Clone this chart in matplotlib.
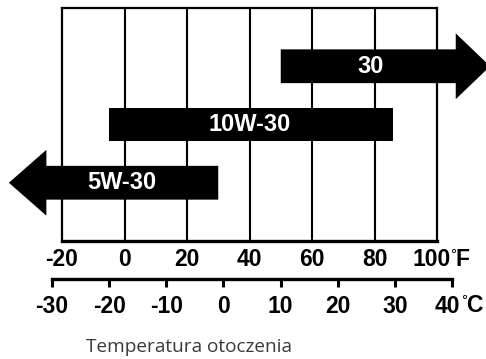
import matplotlib.pyplot as plt
from matplotlib.patches import FancyArrow
from matplotlib.transforms import ScaledTranslation

plt.rcParams['font.family'] = ['Liberation Sans', 'DejaVu Sans']

# === DATA ===
f_ticks = [-20, 0, 20, 40, 60, 80, 100]
c_ticks = [-30, -20, -10, 0, 10, 20, 30, 40]

oil_grades = ["30", "10W-30", "5W-30"]
grade_rows = [3, 2, 1]
# shaft ends in °F; arrow tips run past the scale for open-ended grades
shaft_start_f = [50, -5, 30]
shaft_end_f = [106, 86, -25]
tip_f = [117, 86, -37]
label_f = [78.6, 40, -1]

W, H = 486, 359
SCALE_SIZE = 16.5
fig = plt.figure(figsize=(W / 100, H / 100), dpi=100)


def px_axes(left, top, right, bottom):
    return fig.add_axes([left / W, 1 - bottom / H, (right - left) / W, (bottom - top) / H])


def unit_label(x, y_top, unit):
    # small thin degree sign followed by a bold unit letter
    fig.text(x / W, 1 - y_top / H, "°", fontsize=11, va='top', ha='left')
    fig.text((x + 5) / W, 1 - y_top / H, unit, fontsize=SCALE_SIZE, fontweight='bold',
             va='top', ha='left')


def style_scale(axis_ax, ticks, **tick_kw):
    axis_ax.set_xticks(ticks)
    axis_ax.set_xticklabels([str(t) for t in ticks], fontsize=SCALE_SIZE, fontweight='bold')
    axis_ax.tick_params(axis='x', **tick_kw)
    # the last number sits a little left to leave room for the unit
    last = axis_ax.get_xticklabels()[-1]
    last.set_transform(last.get_transform() + ScaledTranslation(-0.05, 0, fig.dpi_scale_trans))


# === FAHRENHEIT GRID ===
ax = px_axes(62, 8, 437, 241)
ax.set_xlim(-20, 100)
ax.set_ylim(0, 4)
ax.set_yticks([])
style_scale(ax, f_ticks, length=0, pad=5)
for s in ax.spines.values():
    s.set_linewidth(1.6)
ax.spines['bottom'].set_linewidth(2.4)
for t in f_ticks[1:-1]:
    ax.axvline(t, color='black', lw=1.5, zorder=1)

for name, row, x0, x1, tip, lx in zip(oil_grades, grade_rows, shaft_start_f,
                                       shaft_end_f, tip_f, label_f):
    head = abs(tip - x1)
    if head:
        arr = FancyArrow(x0, row, tip - x0, 0, width=0.58, head_width=1.13,
                         head_length=head, length_includes_head=True,
                         color='black', lw=0, clip_on=False, zorder=5)
        ax.add_patch(arr)
    else:
        ax.fill([x0, x1, x1, x0], [row - 0.29, row - 0.29, row + 0.29, row + 0.29],
                color='black', lw=0, clip_on=False, zorder=5)
    ax.text(lx, row, name, color='white', fontsize=17, fontweight='bold',
            ha='center', va='center', zorder=6)

unit_label(450, 248, "F")

# === CELSIUS SCALE ===
axc = px_axes(52, 277.5, 452, 278.5)
axc.set_xlim(-30, 40)
axc.set_yticks([])
style_scale(axc, c_ticks, length=6, width=2.2, pad=6)
for side in ['top', 'left', 'right']:
    axc.spines[side].set_visible(False)
axc.spines['bottom'].set_linewidth(2.4)
axc.patch.set_alpha(0)

unit_label(461, 294, "C")

fig.text(86 / W, 1 - 347 / H, "Temperatura otoczenia", fontsize=13.7,
         family='Open Sans', color='#3a3a3a', va='center', ha='left')

fig.savefig('out.png', dpi=100)
